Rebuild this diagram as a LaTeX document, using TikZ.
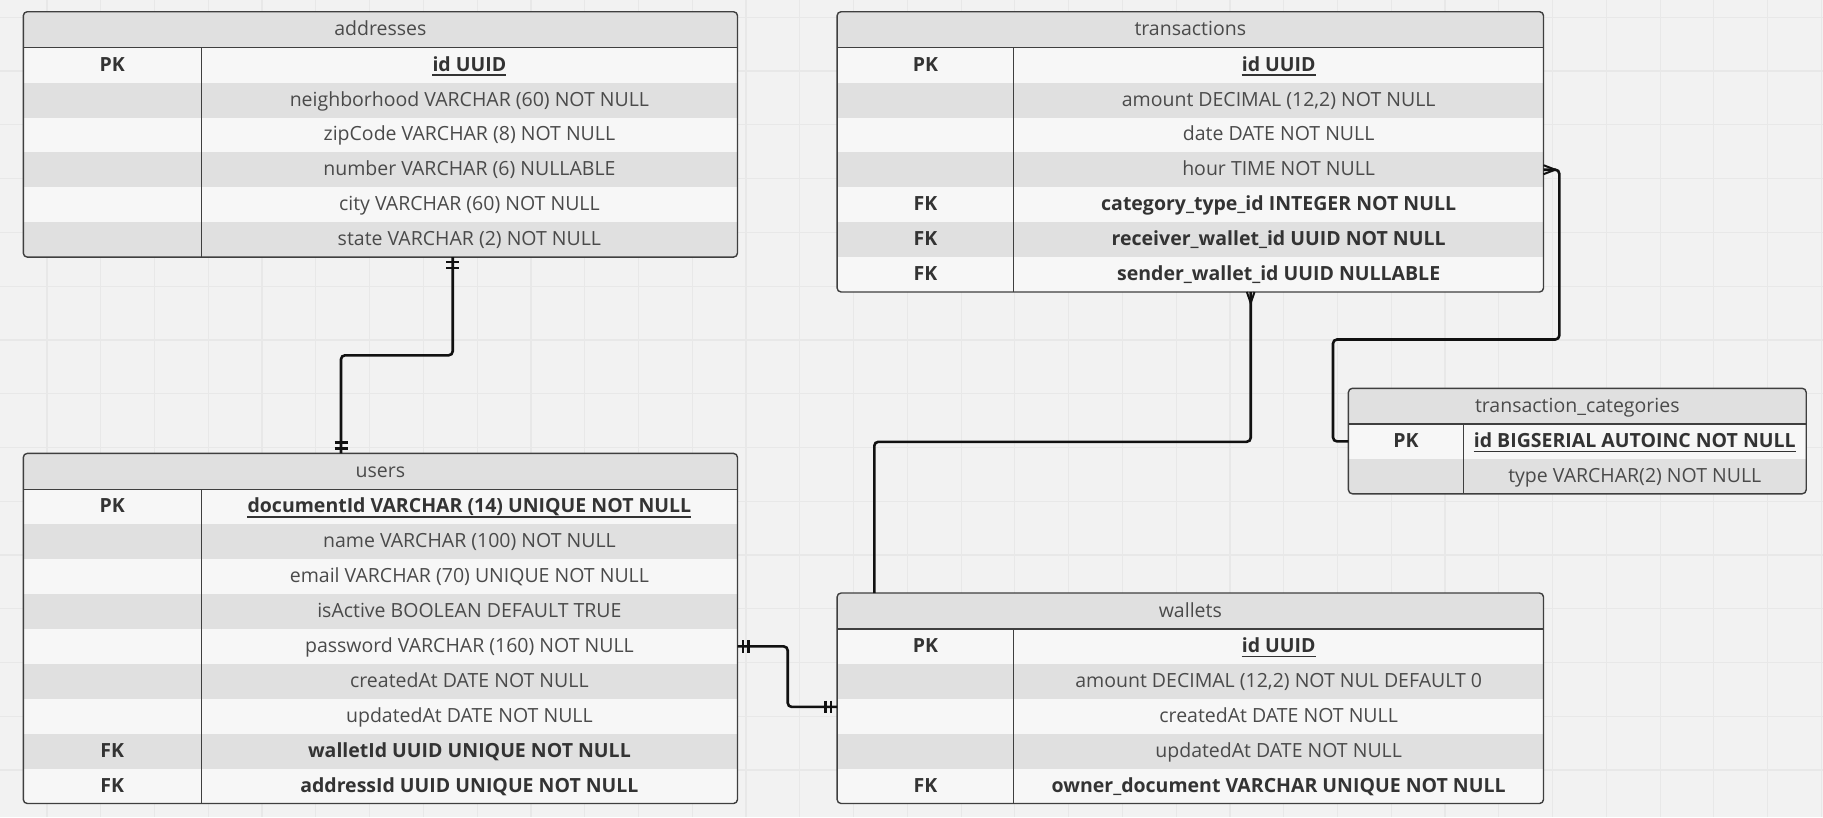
\documentclass[tikz,border=0pt]{standalone}
\usepackage{fontspec}
\setmainfont{Open Sans}
\usetikzlibrary{calc}
\definecolor{bg}{HTML}{F2F2F2}
\definecolor{gridc}{HTML}{E8E8E8}
\definecolor{rowlight}{HTML}{F7F7F7}
\definecolor{rowdark}{HTML}{E0E0E0}
\definecolor{framec}{HTML}{3F3F3F}
\definecolor{txtreg}{HTML}{4A4A4A}
\definecolor{txtbold}{HTML}{333333}
\definecolor{connc}{HTML}{111111}
\newcommand{\erfont}{\fontsize{19.5}{23}\selectfont}
\tikzset{
 gridline/.style={gridc, line width=1.2pt},
 tableframe/.style={draw=framec, line width=1.4pt, rounded corners=4pt, inner sep=0pt, outer sep=0pt, anchor=north west},
 sepline/.style={framec, line width=1.2pt},
 coldiv/.style={framec, line width=1pt},
 titletext/.style={anchor=base, inner sep=0pt, text=txtreg, font=\erfont},
 keytext/.style={anchor=base, inner sep=0pt, text=txtbold, font=\erfont\bfseries},
 regtext/.style={anchor=base, inner sep=0pt, text=txtreg, font=\erfont},
 boldtext/.style={anchor=base, inner sep=0pt, text=txtbold, font=\erfont\bfseries},
 uline/.style={txtbold, line width=1.8pt},
 conn/.style={connc, line width=2.6pt, rounded corners=4pt},
 marker/.style={connc, line width=2.4pt},
 crow/.style={connc, line width=2pt},
}
% #1 name #2 x0 #3 xdiv #4 x1 #5 ytop #6 fill #7 key #8 field style #9 field text
\newcommand{\errow}[9]{%
  \fill[#6] (#2,#5) rectangle (#4,#5+34.9);
  \node[keytext] (#1k) at ({(#2+#3)/2},#5+23.4) {#7};
  \node[#8] (#1f) at ({(#3+#4)/2},#5+23.4) {#9};
}
\newcommand{\pkline}[1]{\draw[uline] ([yshift=-4pt]#1.base west) -- ([yshift=-4pt]#1.base east);}
\begin{document}
\begin{tikzpicture}[x=1pt,y=-1pt]
\useasboundingbox (0,0) rectangle (1823,817);
\fill[bg] (0,0) rectangle (1823,817);
\foreach \i in {0,...,33} \draw[gridline] ({47+\i*53.77},0) -- ({47+\i*53.77},817);
\foreach \j in {0,...,14} \draw[gridline] (0,{17.3+\j*53.77}) -- (1823,{17.3+\j*53.77});

% ---------------- addresses
\begin{scope}
\clip[rounded corners=4pt] (23.3,11.7) rectangle (737.5,257.1);
\fill[rowdark] (23.3,11.7) rectangle (737.5,47.7);
\errow{a1}{23.3}{201.3}{737.5}{47.7}{rowlight}{PK}{boldtext}{id UUID}
\errow{a2}{23.3}{201.3}{737.5}{82.6}{rowdark}{}{regtext}{neighborhood VARCHAR (60) NOT NULL}
\errow{a3}{23.3}{201.3}{737.5}{117.5}{rowlight}{}{regtext}{zipCode VARCHAR (8) NOT NULL}
\errow{a4}{23.3}{201.3}{737.5}{152.4}{rowdark}{}{regtext}{number VARCHAR (6) NULLABLE}
\errow{a5}{23.3}{201.3}{737.5}{187.3}{rowlight}{}{regtext}{city VARCHAR (60) NOT NULL}
\errow{a6}{23.3}{201.3}{737.5}{222.2}{rowdark}{}{regtext}{state VARCHAR (2) NOT NULL}
\end{scope}
\pkline{a1f}
\node[titletext] (addresses-title) at (380.4,35.7) {addresses};
\draw[sepline] (23.3,47.7) -- (737.5,47.7);
\draw[coldiv] (201.3,47.7) -- (201.3,257.1);
\node[tableframe, minimum width=714.2pt, minimum height=245.4pt] (addresses) at (23.3,11.7) {};

% ---------------- transactions
\begin{scope}
\clip[rounded corners=4pt] (837.1,11.7) rectangle (1543.5,292.0);
\fill[rowdark] (837.1,11.7) rectangle (1543.5,47.7);
\errow{t1}{837.1}{1013.8}{1543.5}{47.7}{rowlight}{PK}{boldtext}{id UUID}
\errow{t2}{837.1}{1013.8}{1543.5}{82.6}{rowdark}{}{regtext}{amount DECIMAL (12,2) NOT NULL}
\errow{t3}{837.1}{1013.8}{1543.5}{117.5}{rowlight}{}{regtext}{date DATE NOT NULL}
\errow{t4}{837.1}{1013.8}{1543.5}{152.4}{rowdark}{}{regtext}{hour TIME NOT NULL}
\errow{t5}{837.1}{1013.8}{1543.5}{187.3}{rowlight}{FK}{boldtext}{category\_type\_id INTEGER NOT NULL}
\errow{t6}{837.1}{1013.8}{1543.5}{222.2}{rowdark}{FK}{boldtext}{receiver\_wallet\_id UUID NOT NULL}
\errow{t7}{837.1}{1013.8}{1543.5}{257.1}{rowlight}{FK}{boldtext}{sender\_wallet\_id UUID NULLABLE}
\end{scope}
\pkline{t1f}
\node[titletext] (transactions-title) at (1190.3,35.7) {transactions};
\draw[sepline] (837.1,47.7) -- (1543.5,47.7);
\draw[coldiv] (1013.8,47.7) -- (1013.8,292.0);
\node[tableframe, minimum width=706.4pt, minimum height=280.3pt] (transactions) at (837.1,11.7) {};

% ---------------- users
\begin{scope}
\clip[rounded corners=4pt] (23.3,453.4) rectangle (737.5,803.5);
\fill[rowdark] (23.3,453.4) rectangle (737.5,489.4);
\errow{u1}{23.3}{201.3}{737.5}{489.4}{rowlight}{PK}{boldtext}{documentId VARCHAR (14) UNIQUE NOT NULL}
\errow{u2}{23.3}{201.3}{737.5}{524.3}{rowdark}{}{regtext}{name VARCHAR (100) NOT NULL}
\errow{u3}{23.3}{201.3}{737.5}{559.2}{rowlight}{}{regtext}{email VARCHAR (70) UNIQUE NOT NULL}
\errow{u4}{23.3}{201.3}{737.5}{594.1}{rowdark}{}{regtext}{isActive BOOLEAN DEFAULT TRUE}
\errow{u5}{23.3}{201.3}{737.5}{629.0}{rowlight}{}{regtext}{password VARCHAR (160) NOT NULL}
\errow{u6}{23.3}{201.3}{737.5}{663.9}{rowdark}{}{regtext}{createdAt DATE NOT NULL}
\errow{u7}{23.3}{201.3}{737.5}{698.8}{rowlight}{}{regtext}{updatedAt DATE NOT NULL}
\errow{u8}{23.3}{201.3}{737.5}{733.7}{rowdark}{FK}{boldtext}{walletId UUID UNIQUE NOT NULL}
\errow{u9}{23.3}{201.3}{737.5}{768.6}{rowlight}{FK}{boldtext}{addressId UUID UNIQUE NOT NULL}
\end{scope}
\pkline{u1f}
\node[titletext] (users-title) at (380.4,477.4) {users};
\draw[sepline] (23.3,489.4) -- (737.5,489.4);
\draw[coldiv] (201.3,489.4) -- (201.3,803.5);
\node[tableframe, minimum width=714.2pt, minimum height=350.1pt] (users) at (23.3,453.4) {};

% ---------------- wallets
\begin{scope}
\clip[rounded corners=4pt] (837.1,593.0) rectangle (1543.5,803.5);
\fill[rowdark] (837.1,593.0) rectangle (1543.5,629.0);
\errow{w1}{837.1}{1013.8}{1543.5}{629.0}{rowlight}{PK}{boldtext}{id UUID}
\errow{w2}{837.1}{1013.8}{1543.5}{663.9}{rowdark}{}{regtext}{amount DECIMAL (12,2) NOT NUL DEFAULT 0}
\errow{w3}{837.1}{1013.8}{1543.5}{698.8}{rowlight}{}{regtext}{createdAt DATE NOT NULL}
\errow{w4}{837.1}{1013.8}{1543.5}{733.7}{rowdark}{}{regtext}{updatedAt DATE NOT NULL}
\errow{w5}{837.1}{1013.8}{1543.5}{768.6}{rowlight}{FK}{boldtext}{owner\_document VARCHAR UNIQUE NOT NULL}
\end{scope}
\pkline{w1f}
\node[titletext] (wallets-title) at (1190.3,617.0) {wallets};
\draw[sepline] (837.1,629.0) -- (1543.5,629.0);
\draw[coldiv] (1013.8,629.0) -- (1013.8,803.5);
\node[tableframe, minimum width=706.4pt, minimum height=210.5pt] (wallets) at (837.1,593.0) {};

% ---------------- transaction_categories
\begin{scope}
\clip[rounded corners=4pt] (1348.4,388.3) rectangle (1806.2,493.8);
\fill[rowdark] (1348.4,388.3) rectangle (1806.2,424.0);
\errow{c1}{1348.4}{1463.3}{1806.2}{424.0}{rowlight}{PK}{boldtext}{id BIGSERIAL AUTOINC NOT NULL}
\errow{c2}{1348.4}{1463.3}{1806.2}{458.9}{rowdark}{}{regtext}{type VARCHAR(2) NOT NULL}
\end{scope}
\pkline{c1f}
\node[titletext] (tcat-title) at (1577.3,412.3) {transaction\_categories};
\draw[sepline] (1348.4,424.0) -- (1806.2,424.0);
\draw[coldiv] (1463.3,424.0) -- (1463.3,493.8);
\node[tableframe, minimum width=457.8pt, minimum height=105.5pt] (tcat) at (1348.4,388.3) {};

% ---------------- connectors
% addresses -- users
\coordinate (c1a) at (452.7,355.3);
\coordinate (c1b) at (341,355.3);
\draw[conn] (addresses.south -| c1a) -- (c1a) -- (c1b) -- (users.north -| c1b);
\draw[marker] ($(addresses.south -| c1a)+(-6.5,5)$) -- ++(13,0);
\draw[marker] ($(addresses.south -| c1a)+(-6.5,11)$) -- ++(13,0);
\draw[marker] ($(users.north -| c1b)+(-6.5,-5)$) -- ++(13,0);
\draw[marker] ($(users.north -| c1b)+(-6.5,-11)$) -- ++(13,0);

% users -- wallets
\coordinate (c2a) at (787.7,646.4);
\coordinate (c2b) at (787.7,706.9);
\draw[conn] (users.east |- c2a) -- (c2a) -- (c2b) -- (wallets.west |- c2b);
\draw[marker] ($(users.east |- c2a)+(5.4,-6.3)$) -- ++(0,12.6);
\draw[marker] ($(users.east |- c2a)+(11,-6.3)$) -- ++(0,12.6);
\draw[marker] ($(wallets.west |- c2b)+(-6,-6.3)$) -- ++(0,12.6);
\draw[marker] ($(wallets.west |- c2b)+(-11.5,-6.3)$) -- ++(0,12.6);

% transactions -- wallets
\coordinate (c3a) at (1250.7,441.8);
\coordinate (c3b) at (874.3,441.8);
\draw[conn] (transactions.south -| c3a) -- (c3a) -- (c3b) -- (wallets.north -| c3b);
\draw[crow] ($(transactions.south -| c3a)+(-3.8,0)$) -- ($(transactions.south -| c3a)+(0,11)$) -- ($(transactions.south -| c3a)+(3.8,0)$);

% transactions -- transaction_categories
\coordinate (c4a) at (1559.3,169.7);
\coordinate (c4b) at (1559.3,339.5);
\coordinate (c4c) at (1333,339.5);
\coordinate (c4d) at (1333,441.4);
\draw[conn] (transactions.east |- c4a) -- (c4a) -- (c4b) -- (c4c) -- (c4d) -- (tcat.west |- c4d);
\draw[crow] ($(transactions.east |- c4a)+(0,-4.5)$) -- ($(transactions.east |- c4a)+(11.7,0)$) -- ($(transactions.east |- c4a)+(0,4.5)$);
\end{tikzpicture}
\end{document}
